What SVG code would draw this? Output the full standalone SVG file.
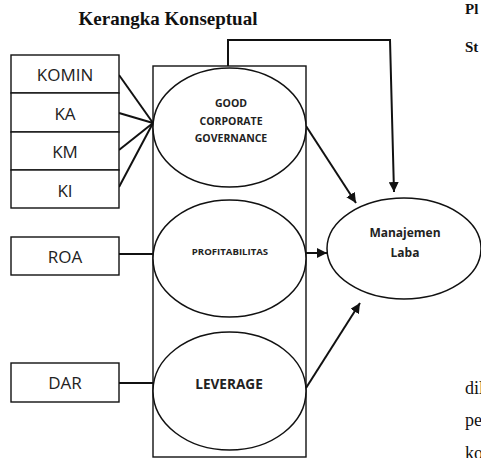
<svg xmlns="http://www.w3.org/2000/svg" width="481" height="458" viewBox="0 0 481 458">
<style>
.box{fill:#fff;stroke:#111;stroke-width:1.4}
.ell{fill:#fff;stroke:#111;stroke-width:1.5}
.lbl{font-family:"Open Sans","Liberation Sans",sans-serif;font-size:17px;fill:#222;text-anchor:middle}
.var{font-family:"Open Sans","Liberation Sans",sans-serif;font-size:10.5px;font-weight:bold;fill:#222;text-anchor:middle}
.dep{font-family:"Open Sans","Liberation Sans",sans-serif;font-size:12px;font-weight:bold;fill:#222;text-anchor:middle}
.ser{font-family:"Liberation Serif","Times New Roman",serif;fill:#111}
.con{fill:none;stroke:#111;stroke-width:2}
</style>
<defs>
<marker id="arr" viewBox="0 0 10 10" refX="10" refY="5" markerWidth="5" markerHeight="5" markerUnits="strokeWidth" orient="auto">
<path d="M0,0 L10,5 L0,10 z" fill="#111"/>
</marker>
</defs>
<rect width="481" height="458" fill="#fff"/>
<text class="ser" x="168" y="25" font-size="19" font-weight="bold" text-anchor="middle">Kerangka Konseptual</text>
<text class="ser" x="465" y="14" font-size="15" font-weight="bold">Pl</text>
<text class="ser" x="465" y="52" font-size="15" font-weight="bold">St</text>
<text class="ser" x="465" y="394" font-size="18">dil</text>
<text class="ser" x="465" y="426" font-size="18">pe</text>
<text class="ser" x="465" y="459" font-size="18">ko</text>
<g id="frame"><rect class="box" x="153" y="66" width="153" height="391"/></g>
<g id="connectors">
<polyline class="con" points="228,66 228,40 390,40 394,192" marker-end="url(#arr)"/>
<line class="con" x1="119" y1="75" x2="153" y2="123"/>
<line class="con" x1="119" y1="113" x2="153" y2="123"/>
<line class="con" x1="119" y1="150" x2="153" y2="123"/>
<line class="con" x1="119" y1="187" x2="153" y2="123"/>
<line class="con" x1="119" y1="254" x2="153" y2="254"/>
<line class="con" x1="119" y1="383" x2="153" y2="383"/>
<line class="con" x1="306" y1="126" x2="356" y2="203" marker-end="url(#arr)"/>
<line class="con" x1="306" y1="253" x2="327" y2="253" marker-end="url(#arr)"/>
<line class="con" x1="306" y1="388" x2="360" y2="303" marker-end="url(#arr)"/>
</g>
<g id="komin"><rect class="box" x="11" y="55" width="108" height="38"/><text class="lbl" x="65" y="81">KOMIN</text></g>
<g id="ka"><rect class="box" x="11" y="93" width="108" height="39"/><text class="lbl" x="65" y="120">KA</text></g>
<g id="km"><rect class="box" x="11" y="132" width="108" height="38"/><text class="lbl" x="65" y="158">KM</text></g>
<g id="ki"><rect class="box" x="11" y="170" width="108" height="38"/><text class="lbl" x="65" y="197">KI</text></g>
<g id="roa"><rect class="box" x="11" y="237" width="108" height="38"/><text class="lbl" x="65" y="263">ROA</text></g>
<g id="dar"><rect class="box" x="11" y="363" width="108" height="39"/><text class="lbl" x="65" y="389">DAR</text></g>
<g id="gcg"><ellipse class="ell" cx="229.5" cy="127.5" rx="76.5" ry="59.5"/>
<text class="var" x="231" y="107">GOOD</text><text class="var" x="231" y="125">CORPORATE</text><text class="var" x="231" y="142">GOVERNANCE</text></g>
<g id="profit"><ellipse class="ell" cx="229.5" cy="258.5" rx="76.5" ry="58.5"/>
<text class="var" x="230" y="255" style="font-size:9.6px">PROFITABILITAS</text></g>
<g id="leverage"><ellipse class="ell" cx="229.5" cy="391" rx="76.5" ry="59"/>
<text class="dep" x="229" y="389" style="font-size:13.6px">LEVERAGE</text></g>
<g id="laba"><ellipse class="ell" cx="404" cy="248.5" rx="77" ry="50.5"/>
<text class="dep" x="405" y="237">Manajemen</text><text class="dep" x="405" y="257">Laba</text></g>
</svg>
